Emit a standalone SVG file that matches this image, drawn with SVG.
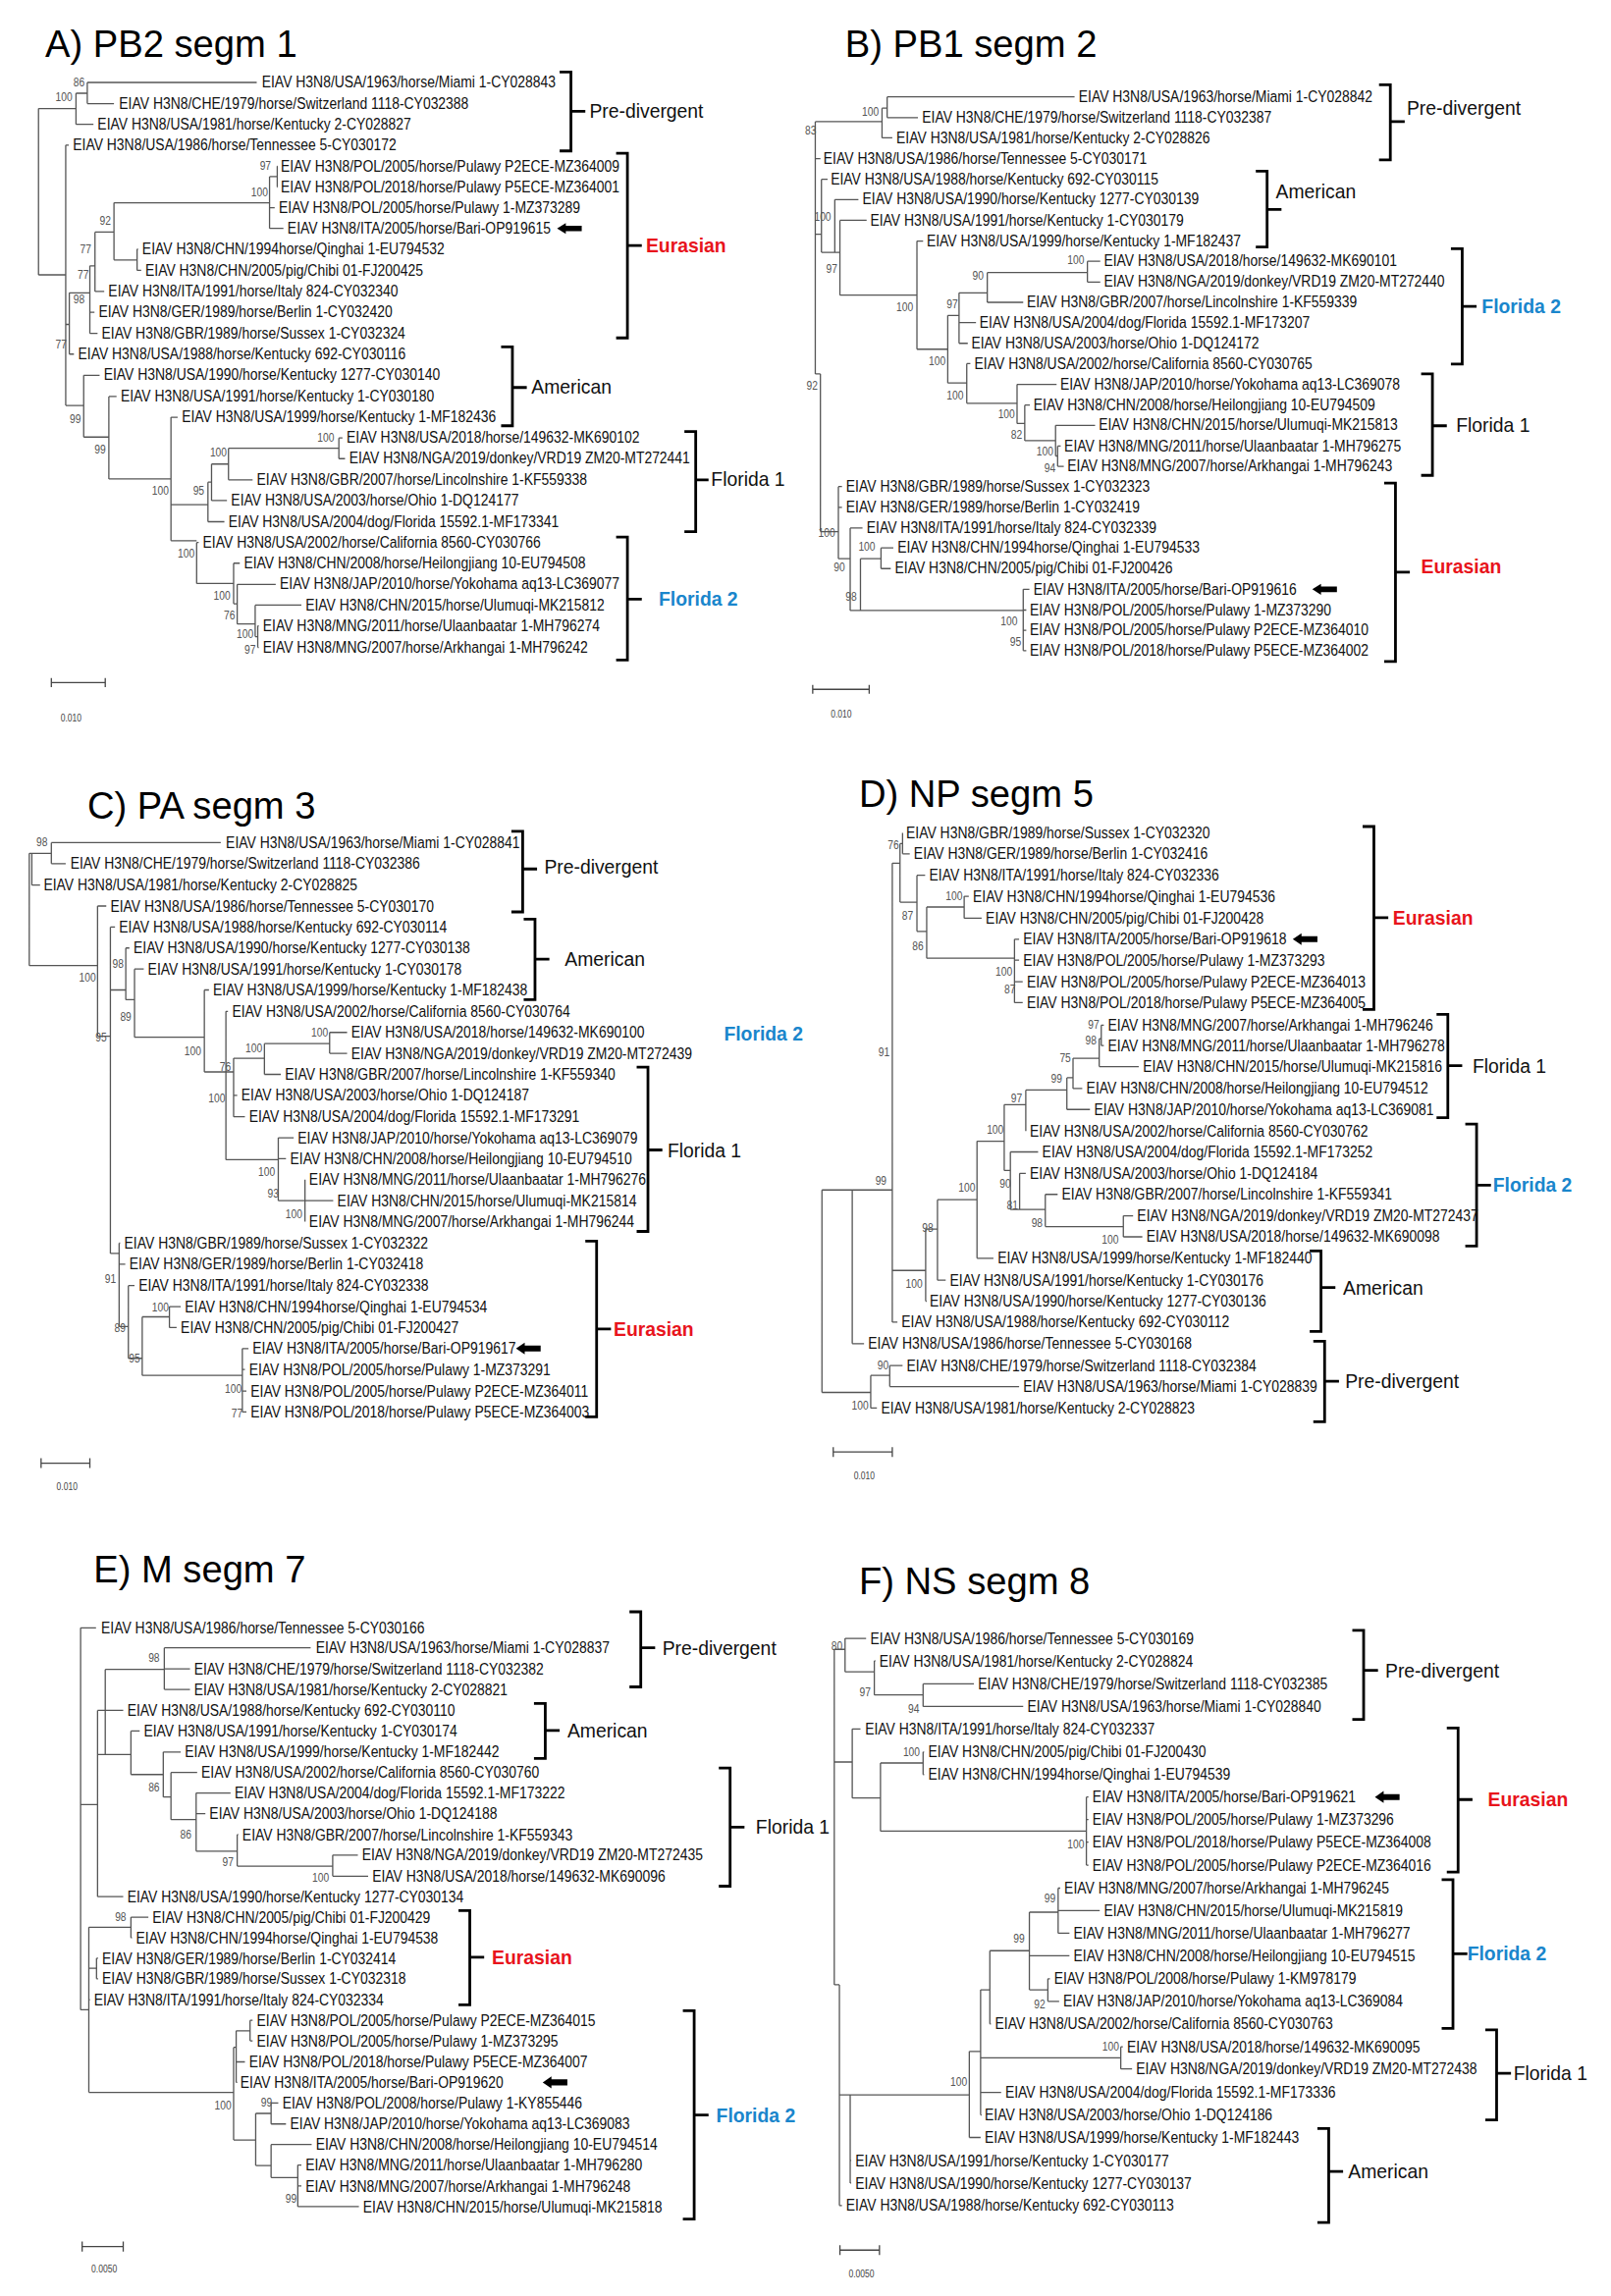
<svg xmlns="http://www.w3.org/2000/svg" xmlns:xlink="http://www.w3.org/1999/xlink" width="1641" height="2339" viewBox="0 0 1641 2339">
<style>
text{font-family:"Liberation Sans",Arial,sans-serif;transform-box:fill-box;transform-origin:0% 78%}
.n{font-size:32.5px;fill:#111}
.b{font-size:24px;fill:#555}
.L{font-size:37px;fill:#111}
.R{font-weight:bold;fill:#e8141c}
.Bl{font-weight:bold;fill:#1a86cc}
.T{font-size:73px;fill:#000}
.s{font-size:20px;fill:#444}
.p1 .n,.p1 .b,.p1 .s{transform:scale(0.82,1.14)}
.p1 .L,.p1 .T{transform:scaleY(1.14)}
.p2 .n,.p2 .b,.p2 .s{transform:scale(0.82,1.052)}
.p2 .L,.p2 .T{transform:scaleY(1.052)}
.p3 .n,.p3 .b,.p3 .s{transform:scale(0.82,1.026)}
.p3 .L,.p3 .T{transform:scaleY(1.026)}
.tr{fill:none;stroke:#555;stroke-width:1.3;vector-effect:non-scaling-stroke}
.br{fill:none;stroke:#000;stroke-width:2.8;vector-effect:non-scaling-stroke}
.sc{fill:none;stroke:#444;stroke-width:1.3;vector-effect:non-scaling-stroke}
</style>
<defs><path id="arr" d="M0 0L17 -12V-6H48V6H17V12Z" fill="#000"/></defs>

<g id="panelA" class="p1" transform="translate(0,0) scale(0.523,0.459)">
<text class="T" x="88" y="125">A) PB2 segm 1</text>
<g id="treeA-connectors">
<path class="tr" d="M170 183H500M170 230H222M148 276H182M128 322H134M540 369H541M540 415H541M525 461H535M525 507H552M267 553H269M267 600H275M185 647H203M175 693H184M175 740H190M135 786H144M163 833H194M212 880H227M333 926H346M660 972H667M660 1018H672M445 1065H492M412 1111H442M405 1158H437M383 1204H387M455 1250H467M462 1297H537M497 1343H587M502 1389H504M502 1437H504
M148 207H170M170 183V230M148 207V276M75 241V610M75 241H148M75 610H128M128 322V900M128 720H135M135 650V786M135 650H175M175 590V740M175 590H185M185 515V647M185 515H222M222 450V577M222 450H525M222 577H267M267 553V600M525 392V507M525 392H540M540 369V415M128 900H163M163 833V970M163 970H212M212 880V1063M212 1063H333M333 926V1200M333 1120H405M333 1200H383M405 1070V1158M405 1070H412M412 1030V1111M412 1030H445M445 995V1065M445 995H660M660 972V1018M383 1204V1295M383 1295H455M455 1250V1340M455 1340H462M462 1297V1385M462 1385H497M497 1343V1413M497 1413H502M502 1389V1437"/>
<path class="br" d="M1090 160H1112V335H1090M1112 247H1140M1200 340H1222V750H1200M1222 545H1250M976 770H998V945H976M998 860H1026M1333 958H1355V1180H1333M1355 1065H1380M1200 1192H1222V1465H1200M1222 1330H1250"/>
<path class="sc" d="M100 1515H205M100 1505V1525M205 1505V1525"/>
</g>
<use href="#arr" x="1085" y="507"/>
<g id="leavesA">
<text class="n" x="510" y="194">EIAV H3N8/USA/1963/horse/Miami 1-CY028843</text>
<text class="n" x="232" y="241">EIAV H3N8/CHE/1979/horse/Switzerland 1118-CY032388</text>
<text class="n" x="190" y="287">EIAV H3N8/USA/1981/horse/Kentucky 2-CY028827</text>
<text class="n" x="142" y="333">EIAV H3N8/USA/1986/horse/Tennessee 5-CY030172</text>
<text class="n" x="547" y="380">EIAV H3N8/POL/2005/horse/Pulawy P2ECE-MZ364009</text>
<text class="n" x="547" y="426">EIAV H3N8/POL/2018/horse/Pulawy P5ECE-MZ364001</text>
<text class="n" x="543" y="472">EIAV H3N8/POL/2005/horse/Pulawy 1-MZ373289</text>
<text class="n" x="560" y="518">EIAV H3N8/ITA/2005/horse/Bari-OP919615</text>
<text class="n" x="277" y="564">EIAV H3N8/CHN/1994horse/Qinghai 1-EU794532</text>
<text class="n" x="283" y="611">EIAV H3N8/CHN/2005/pig/Chibi 01-FJ200425</text>
<text class="n" x="211" y="658">EIAV H3N8/ITA/1991/horse/Italy 824-CY032340</text>
<text class="n" x="192" y="704">EIAV H3N8/GER/1989/horse/Berlin 1-CY032420</text>
<text class="n" x="198" y="751">EIAV H3N8/GBR/1989/horse/Sussex 1-CY032324</text>
<text class="n" x="152" y="797">EIAV H3N8/USA/1988/horse/Kentucky 692-CY030116</text>
<text class="n" x="202" y="844">EIAV H3N8/USA/1990/horse/Kentucky 1277-CY030140</text>
<text class="n" x="235" y="891">EIAV H3N8/USA/1991/horse/Kentucky 1-CY030180</text>
<text class="n" x="354" y="937">EIAV H3N8/USA/1999/horse/Kentucky 1-MF182436</text>
<text class="n" x="675" y="983">EIAV H3N8/USA/2018/horse/149632-MK690102</text>
<text class="n" x="680" y="1029">EIAV H3N8/NGA/2019/donkey/VRD19 ZM20-MT272441</text>
<text class="n" x="500" y="1076">EIAV H3N8/GBR/2007/horse/Lincolnshire 1-KF559338</text>
<text class="n" x="450" y="1122">EIAV H3N8/USA/2003/horse/Ohio 1-DQ124177</text>
<text class="n" x="445" y="1169">EIAV H3N8/USA/2004/dog/Florida 15592.1-MF173341</text>
<text class="n" x="395" y="1215">EIAV H3N8/USA/2002/horse/California 8560-CY030766</text>
<text class="n" x="475" y="1261">EIAV H3N8/CHN/2008/horse/Heilongjiang 10-EU794508</text>
<text class="n" x="545" y="1308">EIAV H3N8/JAP/2010/horse/Yokohama aq13-LC369077</text>
<text class="n" x="595" y="1354">EIAV H3N8/CHN/2015/horse/Ulumuqi-MK215812</text>
<text class="n" x="512" y="1400">EIAV H3N8/MNG/2011/horse/Ulaanbaatar 1-MH796274</text>
<text class="n" x="512" y="1448">EIAV H3N8/MNG/2007/horse/Arkhangai 1-MH796242</text>
</g>
<g id="bootA">
<text class="b" x="143" y="191">86</text><text class="b" x="108" y="225">100</text><text class="b" x="506" y="377">97</text><text class="b" x="489" y="435">100</text><text class="b" x="194" y="498">92</text><text class="b" x="156" y="563">77</text><text class="b" x="151" y="618">77</text><text class="b" x="143" y="673">98</text><text class="b" x="108" y="773">77</text><text class="b" x="136" y="938">99</text><text class="b" x="184" y="1006">99</text><text class="b" x="409" y="1013">100</text><text class="b" x="376" y="1098">95</text><text class="b" x="296" y="1098">100</text><text class="b" x="346" y="1238">100</text><text class="b" x="618" y="980">100</text><text class="b" x="416" y="1331">100</text><text class="b" x="436" y="1375">76</text><text class="b" x="461" y="1415">100</text><text class="b" x="476" y="1450">97</text>
</g>
<g id="cladesA">
<text class="L" x="1148" y="261">Pre-divergent</text>
<text class="L R" x="1258" y="559">Eurasian</text>
<text class="L" x="1035" y="874">American</text>
<text class="L" x="1385" y="1079">Florida 1</text>
<text class="L Bl" x="1283" y="1344">Florida 2</text>
</g>
<text class="s" x="118" y="1601">0.010</text>
</g>

<g id="panelB" class="p1" transform="translate(820,0) scale(0.523,0.459)">
<text class="T" x="78" y="125">B) PB1 segm 2</text>
<g id="treeB-connectors">
<path class="tr" d="M160 215H525M160 261H220M150 306H170M20 352H30M32 398H44M58 443H104M68 489H120M218 535H230M550 580H575M550 626H575M355 671H425M300 716H333M300 762H317M315 807H322M413 853H490M428 899H438M488 944H565M492 990H498M492 1035H504M65 1080H72M65 1126H72M88 1172H112M148 1216H172M148 1262H167M425 1308H437M425 1354H431M425 1399H431M425 1444H431
M150 240H160M160 215V261M150 240V306M20 270H150M20 270V830M20 520H32M32 398V560M32 560H58M58 443V560M58 560H68M68 489V655M68 655H218M218 535V775M218 775H278M278 700V850M278 700H300M300 650V762M300 650H355M355 605V671M355 605H550M550 580V626M278 850H315M315 807V895M315 895H413M413 853V940M413 940H428M428 899V978M428 978H488M488 944V1012M488 1012H492M492 990V1035M20 830H30M30 830V1180M30 1180H65M65 1080V1240M65 1240H88M88 1172V1355M88 1355H108M108 1240V1355M108 1240H148M148 1216V1262M108 1355H425M425 1308V1444"/>
<path class="br" d="M1118 188H1140V355H1118M1140 270H1168M878 380H900V548H878M900 465H928M1258 552H1280V808H1258M1280 680H1308M1200 830H1222V1055H1200M1222 945H1250M1128 1072H1150V1468H1128M1150 1270H1178"/>
<path class="sc" d="M15 1530H125M15 1520V1540M125 1520V1540"/>
</g>
<use href="#arr" x="988" y="1308"/>
<g id="leavesB">
<text class="n" x="533" y="226">EIAV H3N8/USA/1963/horse/Miami 1-CY028842</text>
<text class="n" x="228" y="272">EIAV H3N8/CHE/1979/horse/Switzerland 1118-CY032387</text>
<text class="n" x="178" y="317">EIAV H3N8/USA/1981/horse/Kentucky 2-CY028826</text>
<text class="n" x="36" y="363">EIAV H3N8/USA/1986/horse/Tennessee 5-CY030171</text>
<text class="n" x="50" y="409">EIAV H3N8/USA/1988/horse/Kentucky 692-CY030115</text>
<text class="n" x="112" y="454">EIAV H3N8/USA/1990/horse/Kentucky 1277-CY030139</text>
<text class="n" x="127" y="500">EIAV H3N8/USA/1991/horse/Kentucky 1-CY030179</text>
<text class="n" x="237" y="546">EIAV H3N8/USA/1999/horse/Kentucky 1-MF182437</text>
<text class="n" x="582" y="591">EIAV H3N8/USA/2018/horse/149632-MK690101</text>
<text class="n" x="582" y="637">EIAV H3N8/NGA/2019/donkey/VRD19 ZM20-MT272440</text>
<text class="n" x="432" y="682">EIAV H3N8/GBR/2007/horse/Lincolnshire 1-KF559339</text>
<text class="n" x="340" y="727">EIAV H3N8/USA/2004/dog/Florida 15592.1-MF173207</text>
<text class="n" x="324" y="773">EIAV H3N8/USA/2003/horse/Ohio 1-DQ124172</text>
<text class="n" x="330" y="818">EIAV H3N8/USA/2002/horse/California 8560-CY030765</text>
<text class="n" x="497" y="864">EIAV H3N8/JAP/2010/horse/Yokohama aq13-LC369078</text>
<text class="n" x="445" y="910">EIAV H3N8/CHN/2008/horse/Heilongjiang 10-EU794509</text>
<text class="n" x="572" y="955">EIAV H3N8/CHN/2015/horse/Ulumuqi-MK215813</text>
<text class="n" x="505" y="1001">EIAV H3N8/MNG/2011/horse/Ulaanbaatar 1-MH796275</text>
<text class="n" x="511" y="1046">EIAV H3N8/MNG/2007/horse/Arkhangai 1-MH796243</text>
<text class="n" x="80" y="1091">EIAV H3N8/GBR/1989/horse/Sussex 1-CY032323</text>
<text class="n" x="80" y="1137">EIAV H3N8/GER/1989/horse/Berlin 1-CY032419</text>
<text class="n" x="120" y="1183">EIAV H3N8/ITA/1991/horse/Italy 824-CY032339</text>
<text class="n" x="180" y="1227">EIAV H3N8/CHN/1994horse/Qinghai 1-EU794533</text>
<text class="n" x="175" y="1273">EIAV H3N8/CHN/2005/pig/Chibi 01-FJ200426</text>
<text class="n" x="445" y="1319">EIAV H3N8/ITA/2005/horse/Bari-OP919616</text>
<text class="n" x="438" y="1365">EIAV H3N8/POL/2005/horse/Pulawy 1-MZ373290</text>
<text class="n" x="438" y="1410">EIAV H3N8/POL/2005/horse/Pulawy P2ECE-MZ364010</text>
<text class="n" x="438" y="1455">EIAV H3N8/POL/2018/horse/Pulawy P5ECE-MZ364002</text>
</g>
<g id="bootB">
<text class="b" x="0" y="298">83</text><text class="b" x="111" y="256">100</text><text class="b" x="18" y="490">100</text><text class="b" x="41" y="606">97</text><text class="b" x="3" y="865">92</text><text class="b" x="326" y="620">90</text><text class="b" x="511" y="586">100</text><text class="b" x="276" y="684">97</text><text class="b" x="178" y="690">100</text><text class="b" x="241" y="810">100</text><text class="b" x="276" y="886">100</text><text class="b" x="376" y="928">100</text><text class="b" x="401" y="973">82</text><text class="b" x="451" y="1011">100</text><text class="b" x="466" y="1048">94</text><text class="b" x="26" y="1191">100</text><text class="b" x="56" y="1268">90</text><text class="b" x="79" y="1333">98</text><text class="b" x="104" y="1223">100</text><text class="b" x="381" y="1388">100</text><text class="b" x="399" y="1433">95</text>
</g>
<g id="cladesB">
<text class="L" x="1172" y="254">Pre-divergent</text>
<text class="L" x="917" y="439">American</text>
<text class="L Bl" x="1318" y="694">Florida 2</text>
<text class="L" x="1268" y="959">Florida 1</text>
<text class="L R" x="1200" y="1272">Eurasian</text>
</g>
<text class="s" x="50" y="1592">0.010</text>
</g>

<g id="panelC" class="p2" transform="translate(0,760) scale(0.523,0.497)">
<text class="T" x="170" y="148">C) PA segm 3</text>
<g id="treeC-connectors">
<path class="tr" d="M100 198H430M100 241H128M62 285H78M190 328H207M215 371H224M245 414H252M262 457H280M398 500H407M440 544H444M642 587H676M642 630H676M515 673H547M455 716H462M455 760H477M542 803H572M542 846H557M594 932H649M232 1019H234M232 1062H244M250 1106H262M330 1149H352M330 1192H344M472 1235H484M472 1278H477M472 1322H480M472 1365H480
M62 220V285M62 220H100M100 198V241M57 220H62M57 220V450M57 450H190M190 328V595M190 595H215M215 371V1040M215 500H245M245 414V520M245 520H262M262 457V597M262 597H398M398 500V668M398 668H440M440 544V848M440 668H455M455 640V760M455 640H515M515 610V673M515 610H642M642 587V630M440 848H542M542 803V932M542 932H594M594 889V975M215 1040H232M232 1019V1190M232 1190H250M250 1106V1255M250 1255H277M277 1170V1290M277 1170H330M330 1149V1192M277 1290H472M472 1235V1365"/>
<path class="br" d="M996 175H1018V340H996M1018 252H1046M1020 355H1042V520H1020M1042 437H1070M1240 658H1262V995H1240M1262 828H1290M1140 1015H1162V1375H1140M1162 1195H1190"/>
<path class="sc" d="M80 1470H175M80 1460V1480M175 1460V1480"/>
</g>
<use href="#arr" x="1005" y="1235"/>
<g id="leavesC">
<text class="n" x="440" y="209">EIAV H3N8/USA/1963/horse/Miami 1-CY028841</text>
<text class="n" x="137" y="252">EIAV H3N8/CHE/1979/horse/Switzerland 1118-CY032386</text>
<text class="n" x="85" y="296">EIAV H3N8/USA/1981/horse/Kentucky 2-CY028825</text>
<text class="n" x="215" y="339">EIAV H3N8/USA/1986/horse/Tennessee 5-CY030170</text>
<text class="n" x="232" y="382">EIAV H3N8/USA/1988/horse/Kentucky 692-CY030114</text>
<text class="n" x="260" y="425">EIAV H3N8/USA/1990/horse/Kentucky 1277-CY030138</text>
<text class="n" x="288" y="468">EIAV H3N8/USA/1991/horse/Kentucky 1-CY030178</text>
<text class="n" x="415" y="511">EIAV H3N8/USA/1999/horse/Kentucky 1-MF182438</text>
<text class="n" x="452" y="555">EIAV H3N8/USA/2002/horse/California 8560-CY030764</text>
<text class="n" x="684" y="598">EIAV H3N8/USA/2018/horse/149632-MK690100</text>
<text class="n" x="684" y="641">EIAV H3N8/NGA/2019/donkey/VRD19 ZM20-MT272439</text>
<text class="n" x="555" y="684">EIAV H3N8/GBR/2007/horse/Lincolnshire 1-KF559340</text>
<text class="n" x="470" y="727">EIAV H3N8/USA/2003/horse/Ohio 1-DQ124187</text>
<text class="n" x="485" y="771">EIAV H3N8/USA/2004/dog/Florida 15592.1-MF173291</text>
<text class="n" x="580" y="814">EIAV H3N8/JAP/2010/horse/Yokohama aq13-LC369079</text>
<text class="n" x="565" y="857">EIAV H3N8/CHN/2008/horse/Heilongjiang 10-EU794510</text>
<text class="n" x="602" y="900">EIAV H3N8/MNG/2011/horse/Ulaanbaatar 1-MH796276</text>
<text class="n" x="657" y="943">EIAV H3N8/CHN/2015/horse/Ulumuqi-MK215814</text>
<text class="n" x="602" y="986">EIAV H3N8/MNG/2007/horse/Arkhangai 1-MH796244</text>
<text class="n" x="242" y="1030">EIAV H3N8/GBR/1989/horse/Sussex 1-CY032322</text>
<text class="n" x="252" y="1073">EIAV H3N8/GER/1989/horse/Berlin 1-CY032418</text>
<text class="n" x="270" y="1117">EIAV H3N8/ITA/1991/horse/Italy 824-CY032338</text>
<text class="n" x="360" y="1160">EIAV H3N8/CHN/1994horse/Qinghai 1-EU794534</text>
<text class="n" x="352" y="1203">EIAV H3N8/CHN/2005/pig/Chibi 01-FJ200427</text>
<text class="n" x="492" y="1246">EIAV H3N8/ITA/2005/horse/Bari-OP919617</text>
<text class="n" x="485" y="1289">EIAV H3N8/POL/2005/horse/Pulawy 1-MZ373291</text>
<text class="n" x="488" y="1333">EIAV H3N8/POL/2005/horse/Pulawy P2ECE-MZ364011</text>
<text class="n" x="488" y="1376">EIAV H3N8/POL/2018/horse/Pulawy P5ECE-MZ364003</text>
</g>
<g id="bootC">
<text class="b" x="71" y="206">98</text><text class="b" x="154" y="483">100</text><text class="b" x="186" y="605">95</text><text class="b" x="219" y="455">98</text><text class="b" x="234" y="563">89</text><text class="b" x="359" y="633">100</text><text class="b" x="478" y="628">100</text><text class="b" x="428" y="665">76</text><text class="b" x="406" y="730">100</text><text class="b" x="606" y="595">100</text><text class="b" x="503" y="881">100</text><text class="b" x="521" y="925">93</text><text class="b" x="556" y="968">100</text><text class="b" x="204" y="1101">91</text><text class="b" x="223" y="1201">89</text><text class="b" x="251" y="1263">95</text><text class="b" x="296" y="1158">100</text><text class="b" x="438" y="1326">100</text><text class="b" x="451" y="1376">77</text>
</g>
<g id="cladesC">
<text class="L" x="1060" y="262">Pre-divergent</text>
<text class="L" x="1100" y="451">American</text>
<text class="L Bl" x="1410" y="604">Florida 2</text>
<text class="L" x="1300" y="842">Florida 1</text>
<text class="L R" x="1195" y="1209">Eurasian</text>
</g>
<text class="s" x="110" y="1525">0.010</text>
</g>

<g id="panelD" class="p2" transform="translate(820,760) scale(0.523,0.497)">
<text class="T" x="105" y="125">D) NP segm 5</text>
<g id="treeD-connectors">
<path class="tr" d="M190 221H204M218 265H234M310 308H319M310 353H344M408 396H417M408 439H417M408 483H424M408 526H424M577 572H582M577 614H582M573 657H650M522 702H540M510 745H555M400 832H454M418 876H430M468 919H492M620 963H639M620 1006H657M335 1050H367M258 1095H274M235 1138H237M170 1181H180M92 1225H115M165 1270H190M165 1313H417M128 1357H140
M190 178V221M185 200V320M185 200H190M185 320H218M218 265V380M218 380H237M237 330V435M237 330H310M310 308V353M237 435H408M408 396V526M170 240V1181M170 240H185M170 1075H235M235 990V1138M235 990H258M258 930V1095M258 930H335M335 810V1050M335 810H388M388 735V870M388 735H430M430 705V789M430 705H510M510 680V745M510 680H522M522 640V702M522 640H573M573 600V657M573 600H577M577 572V614M388 870H400M400 832V950M400 950H418M418 876V950M418 950H468M468 919V985M468 985H620M620 963V1006M92 910V1225M92 910H170M33 910V1325M33 910H92M33 1325H128M128 1290V1357M128 1290H165M165 1270V1313"/>
<path class="br" d="M1086 165H1108V540H1086M1108 352H1136M1230 550H1252V762H1230M1252 655H1280M1286 775H1308V1025H1286M1308 900H1336M983 1035H1005V1200H983M1005 1110H1033M990 1220H1012V1385H990M1012 1302H1040"/>
<path class="sc" d="M55 1447H170M55 1437V1457M170 1437V1457"/>
</g>
<use href="#arr" x="950" y="396"/>
<g id="leavesD">
<text class="n" x="197" y="189">EIAV H3N8/GBR/1989/horse/Sussex 1-CY032320</text>
<text class="n" x="212" y="232">EIAV H3N8/GER/1989/horse/Berlin 1-CY032416</text>
<text class="n" x="242" y="276">EIAV H3N8/ITA/1991/horse/Italy 824-CY032336</text>
<text class="n" x="327" y="319">EIAV H3N8/CHN/1994horse/Qinghai 1-EU794536</text>
<text class="n" x="352" y="364">EIAV H3N8/CHN/2005/pig/Chibi 01-FJ200428</text>
<text class="n" x="425" y="407">EIAV H3N8/ITA/2005/horse/Bari-OP919618</text>
<text class="n" x="425" y="450">EIAV H3N8/POL/2005/horse/Pulawy 1-MZ373293</text>
<text class="n" x="432" y="494">EIAV H3N8/POL/2005/horse/Pulawy P2ECE-MZ364013</text>
<text class="n" x="432" y="537">EIAV H3N8/POL/2018/horse/Pulawy P5ECE-MZ364005</text>
<text class="n" x="590" y="583">EIAV H3N8/MNG/2007/horse/Arkhangai 1-MH796246</text>
<text class="n" x="590" y="625">EIAV H3N8/MNG/2011/horse/Ulaanbaatar 1-MH796278</text>
<text class="n" x="658" y="668">EIAV H3N8/CHN/2015/horse/Ulumuqi-MK215816</text>
<text class="n" x="548" y="713">EIAV H3N8/CHN/2008/horse/Heilongjiang 10-EU794512</text>
<text class="n" x="563" y="756">EIAV H3N8/JAP/2010/horse/Yokohama aq13-LC369081</text>
<text class="n" x="438" y="800">EIAV H3N8/USA/2002/horse/California 8560-CY030762</text>
<text class="n" x="462" y="843">EIAV H3N8/USA/2004/dog/Florida 15592.1-MF173252</text>
<text class="n" x="438" y="887">EIAV H3N8/USA/2003/horse/Ohio 1-DQ124184</text>
<text class="n" x="500" y="930">EIAV H3N8/GBR/2007/horse/Lincolnshire 1-KF559341</text>
<text class="n" x="647" y="974">EIAV H3N8/NGA/2019/donkey/VRD19 ZM20-MT272437</text>
<text class="n" x="665" y="1017">EIAV H3N8/USA/2018/horse/149632-MK690098</text>
<text class="n" x="375" y="1061">EIAV H3N8/USA/1999/horse/Kentucky 1-MF182440</text>
<text class="n" x="282" y="1106">EIAV H3N8/USA/1991/horse/Kentucky 1-CY030176</text>
<text class="n" x="243" y="1149">EIAV H3N8/USA/1990/horse/Kentucky 1277-CY030136</text>
<text class="n" x="188" y="1192">EIAV H3N8/USA/1988/horse/Kentucky 692-CY030112</text>
<text class="n" x="123" y="1236">EIAV H3N8/USA/1986/horse/Tennessee 5-CY030168</text>
<text class="n" x="198" y="1281">EIAV H3N8/CHE/1979/horse/Switzerland 1118-CY032384</text>
<text class="n" x="425" y="1324">EIAV H3N8/USA/1963/horse/Miami 1-CY028839</text>
<text class="n" x="148" y="1368">EIAV H3N8/USA/1981/horse/Kentucky 2-CY028823</text>
</g>
<g id="bootD">
<text class="b" x="161" y="211">76</text><text class="b" x="189" y="356">87</text><text class="b" x="209" y="418">86</text><text class="b" x="274" y="316">100</text><text class="b" x="371" y="470">100</text><text class="b" x="388" y="506">87</text><text class="b" x="143" y="635">91</text><text class="b" x="137" y="900">99</text><text class="b" x="551" y="580">97</text><text class="b" x="546" y="612">98</text><text class="b" x="496" y="648">75</text><text class="b" x="479" y="691">99</text><text class="b" x="401" y="730">97</text><text class="b" x="354" y="795">100</text><text class="b" x="299" y="914">100</text><text class="b" x="379" y="906">90</text><text class="b" x="393" y="950">81</text><text class="b" x="441" y="986">98</text><text class="b" x="578" y="1020">100</text><text class="b" x="228" y="996">98</text><text class="b" x="196" y="1110">100</text><text class="b" x="141" y="1278">90</text><text class="b" x="91" y="1360">100</text>
</g>
<g id="cladesD">
<text class="L R" x="1145" y="366">Eurasian</text>
<text class="L" x="1300" y="669">Florida 1</text>
<text class="L Bl" x="1340" y="914">Florida 2</text>
<text class="L" x="1048" y="1124">American</text>
<text class="L" x="1052" y="1316">Pre-divergent</text>
</g>
<text class="s" x="95" y="1502">0.010</text>
</g>

<g id="panelE" class="p3" transform="translate(0,1540) scale(0.523,0.51)">
<text class="T" x="182" y="142">E) M segm 7</text>
<g id="treeE-connectors">
<path class="tr" d="M157 232H187M320 272H605M320 314H370M320 355H370M190 397H240M255 438H272M318 480H352M333 521H384M382 562H449M382 603H400M462 645H464M648 686H697M648 728H717M190 769H240M255 810H289M255 851H257M188 892H191M188 933H191M173 975H175M487 1016H492M487 1057H492M460 1099H477M460 1140H462M528 1181H542M528 1223H557M528 1264H607M580 1305H587M580 1347H587M580 1388H699
M157 232V995M157 585H190M190 397V769M190 485H255M205 315V485M205 315H320M320 272V355M255 438V525M255 525H318M318 480V570M318 570H333M333 521V615M333 615H382M382 562V678M382 678H462M462 645V708M462 708H648M648 686V728M157 995H173M173 830V1160M173 830H255M255 810V851M173 912H188M188 892V933M173 1160H455M455 1070V1255M455 1070H460M460 1037V1140M460 1037H487M487 1016V1057M455 1255H498M498 1202V1306M498 1202H528M528 1181V1223M498 1306H528M528 1264V1330M528 1330H580M580 1305V1388"/>
<path class="br" d="M1226 200H1248V350H1226M1248 272H1276M1040 383H1062V493H1040M1062 437H1090M1400 512H1422V748H1400M1422 630H1450M893 797H915V985H893M915 890H943M1330 997H1352V1413H1330M1352 1205H1380"/>
<path class="sc" d="M160 1468H240M160 1458V1478M240 1458V1478"/>
</g>
<use href="#arr" x="1057" y="1140"/>
<g id="leavesE">
<text class="n" x="197" y="243">EIAV H3N8/USA/1986/horse/Tennessee 5-CY030166</text>
<text class="n" x="615" y="283">EIAV H3N8/USA/1963/horse/Miami 1-CY028837</text>
<text class="n" x="378" y="325">EIAV H3N8/CHE/1979/horse/Switzerland 1118-CY032382</text>
<text class="n" x="378" y="366">EIAV H3N8/USA/1981/horse/Kentucky 2-CY028821</text>
<text class="n" x="248" y="408">EIAV H3N8/USA/1988/horse/Kentucky 692-CY030110</text>
<text class="n" x="280" y="449">EIAV H3N8/USA/1991/horse/Kentucky 1-CY030174</text>
<text class="n" x="360" y="491">EIAV H3N8/USA/1999/horse/Kentucky 1-MF182442</text>
<text class="n" x="392" y="532">EIAV H3N8/USA/2002/horse/California 8560-CY030760</text>
<text class="n" x="457" y="573">EIAV H3N8/USA/2004/dog/Florida 15592.1-MF173222</text>
<text class="n" x="408" y="614">EIAV H3N8/USA/2003/horse/Ohio 1-DQ124188</text>
<text class="n" x="472" y="656">EIAV H3N8/GBR/2007/horse/Lincolnshire 1-KF559343</text>
<text class="n" x="705" y="697">EIAV H3N8/NGA/2019/donkey/VRD19 ZM20-MT272435</text>
<text class="n" x="725" y="739">EIAV H3N8/USA/2018/horse/149632-MK690096</text>
<text class="n" x="248" y="780">EIAV H3N8/USA/1990/horse/Kentucky 1277-CY030134</text>
<text class="n" x="297" y="821">EIAV H3N8/CHN/2005/pig/Chibi 01-FJ200429</text>
<text class="n" x="265" y="862">EIAV H3N8/CHN/1994horse/Qinghai 1-EU794538</text>
<text class="n" x="199" y="903">EIAV H3N8/GER/1989/horse/Berlin 1-CY032414</text>
<text class="n" x="199" y="944">EIAV H3N8/GBR/1989/horse/Sussex 1-CY032318</text>
<text class="n" x="183" y="986">EIAV H3N8/ITA/1991/horse/Italy 824-CY032334</text>
<text class="n" x="500" y="1027">EIAV H3N8/POL/2005/horse/Pulawy P2ECE-MZ364015</text>
<text class="n" x="500" y="1068">EIAV H3N8/POL/2005/horse/Pulawy 1-MZ373295</text>
<text class="n" x="485" y="1110">EIAV H3N8/POL/2018/horse/Pulawy P5ECE-MZ364007</text>
<text class="n" x="468" y="1151">EIAV H3N8/ITA/2005/horse/Bari-OP919620</text>
<text class="n" x="550" y="1192">EIAV H3N8/POL/2008/horse/Pulawy 1-KY855446</text>
<text class="n" x="565" y="1234">EIAV H3N8/JAP/2010/horse/Yokohama aq13-LC369083</text>
<text class="n" x="615" y="1275">EIAV H3N8/CHN/2008/horse/Heilongjiang 10-EU794514</text>
<text class="n" x="595" y="1316">EIAV H3N8/MNG/2011/horse/Ulaanbaatar 1-MH796280</text>
<text class="n" x="595" y="1358">EIAV H3N8/MNG/2007/horse/Arkhangai 1-MH796248</text>
<text class="n" x="707" y="1399">EIAV H3N8/CHN/2015/horse/Ulumuqi-MK215818</text>
</g>
<g id="bootE">
<text class="b" x="289" y="300">98</text><text class="b" x="289" y="558">86</text><text class="b" x="351" y="653">86</text><text class="b" x="433" y="708">97</text><text class="b" x="608" y="740">100</text><text class="b" x="224" y="818">98</text><text class="b" x="418" y="1195">100</text><text class="b" x="508" y="1189">99</text><text class="b" x="556" y="1381">99</text>
</g>
<g id="cladesE">
<text class="L" x="1290" y="286">Pre-divergent</text>
<text class="L" x="1105" y="451">American</text>
<text class="L" x="1472" y="644">Florida 1</text>
<text class="L R" x="958" y="904">Eurasian</text>
<text class="L Bl" x="1395" y="1219">Florida 2</text>
</g>
<text class="s" x="178" y="1520">0.0050</text>
</g>

<g id="panelF" class="p3" transform="translate(820,1540) scale(0.523,0.51)">
<text class="T" x="105" y="165">F) NS segm 8</text>
<g id="treeF-connectors">
<path class="tr" d="M78 253H119M135 298H137M230 344H329M230 389H425M92 434H108M230 480H232M230 525H232M548 570H552M548 615H552M548 660H552M548 706H552M493 752H497M493 797H574M493 842H515M437 887H515M473 933H477M473 978H495M360 1023H362M615 1069H619M615 1113H637M342 1160H382M342 1205H344M320 1250H342M88 1296H90M88 1341H90M67 1386H72
M57 275V945M57 275H78M78 253V320M78 320H135M135 298V366M135 366H230M230 344V389M57 500H92M92 434V572M92 572H147M147 502V638M147 502H230M230 480V525M147 638H548M548 570V706M57 945H67M67 945V1386M67 1165H88M88 1165V1341M88 1165H320M320 1078V1250M320 1078H342M342 955V1205M342 955H360M360 877V1023M360 877H437M437 800V955M437 800H493M493 752V842M437 955H473M473 933V978M342 1091H615M615 1069V1113"/>
<path class="br" d="M1066 237H1088V415H1066M1088 317H1116M1250 432H1272V720H1250M1272 575H1300M1240 735H1262V1032H1240M1262 883H1290M1325 1035H1347V1215H1325M1347 1122H1375M998 1232H1020V1420H998M1020 1318H1048"/>
<path class="sc" d="M68 1475H145M68 1465V1485M145 1465V1485"/>
</g>
<use href="#arr" x="1110" y="570"/>
<g id="leavesF">
<text class="n" x="127" y="264">EIAV H3N8/USA/1986/horse/Tennessee 5-CY030169</text>
<text class="n" x="145" y="309">EIAV H3N8/USA/1981/horse/Kentucky 2-CY028824</text>
<text class="n" x="337" y="355">EIAV H3N8/CHE/1979/horse/Switzerland 1118-CY032385</text>
<text class="n" x="433" y="400">EIAV H3N8/USA/1963/horse/Miami 1-CY028840</text>
<text class="n" x="117" y="445">EIAV H3N8/ITA/1991/horse/Italy 824-CY032337</text>
<text class="n" x="240" y="491">EIAV H3N8/CHN/2005/pig/Chibi 01-FJ200430</text>
<text class="n" x="240" y="536">EIAV H3N8/CHN/1994horse/Qinghai 1-EU794539</text>
<text class="n" x="560" y="581">EIAV H3N8/ITA/2005/horse/Bari-OP919621</text>
<text class="n" x="560" y="626">EIAV H3N8/POL/2005/horse/Pulawy 1-MZ373296</text>
<text class="n" x="560" y="671">EIAV H3N8/POL/2018/horse/Pulawy P5ECE-MZ364008</text>
<text class="n" x="560" y="717">EIAV H3N8/POL/2005/horse/Pulawy P2ECE-MZ364016</text>
<text class="n" x="505" y="763">EIAV H3N8/MNG/2007/horse/Arkhangai 1-MH796245</text>
<text class="n" x="582" y="808">EIAV H3N8/CHN/2015/horse/Ulumuqi-MK215819</text>
<text class="n" x="523" y="853">EIAV H3N8/MNG/2011/horse/Ulaanbaatar 1-MH796277</text>
<text class="n" x="523" y="898">EIAV H3N8/CHN/2008/horse/Heilongjiang 10-EU794515</text>
<text class="n" x="485" y="944">EIAV H3N8/POL/2008/horse/Pulawy 1-KM978179</text>
<text class="n" x="503" y="989">EIAV H3N8/JAP/2010/horse/Yokohama aq13-LC369084</text>
<text class="n" x="370" y="1034">EIAV H3N8/USA/2002/horse/California 8560-CY030763</text>
<text class="n" x="627" y="1080">EIAV H3N8/USA/2018/horse/149632-MK690095</text>
<text class="n" x="645" y="1124">EIAV H3N8/NGA/2019/donkey/VRD19 ZM20-MT272438</text>
<text class="n" x="390" y="1171">EIAV H3N8/USA/2004/dog/Florida 15592.1-MF173336</text>
<text class="n" x="350" y="1216">EIAV H3N8/USA/2003/horse/Ohio 1-DQ124186</text>
<text class="n" x="350" y="1261">EIAV H3N8/USA/1999/horse/Kentucky 1-MF182443</text>
<text class="n" x="98" y="1307">EIAV H3N8/USA/1991/horse/Kentucky 1-CY030177</text>
<text class="n" x="98" y="1352">EIAV H3N8/USA/1990/horse/Kentucky 1277-CY030137</text>
<text class="n" x="80" y="1397">EIAV H3N8/USA/1988/horse/Kentucky 692-CY030113</text>
</g>
<g id="bootF">
<text class="b" x="51" y="276">80</text><text class="b" x="106" y="368">97</text><text class="b" x="201" y="401">94</text><text class="b" x="191" y="488">100</text><text class="b" x="511" y="673">100</text><text class="b" x="466" y="781">99</text><text class="b" x="406" y="861">99</text><text class="b" x="446" y="993">92</text><text class="b" x="579" y="1077">100</text><text class="b" x="283" y="1148">100</text>
</g>
<g id="cladesF">
<text class="L" x="1130" y="331">Pre-divergent</text>
<text class="L R" x="1330" y="589">Eurasian</text>
<text class="L Bl" x="1290" y="897">Florida 2</text>
<text class="L" x="1380" y="1136">Florida 1</text>
<text class="L" x="1058" y="1332">American</text>
</g>
<text class="s" x="85" y="1530">0.0050</text>
</g>
</svg>
